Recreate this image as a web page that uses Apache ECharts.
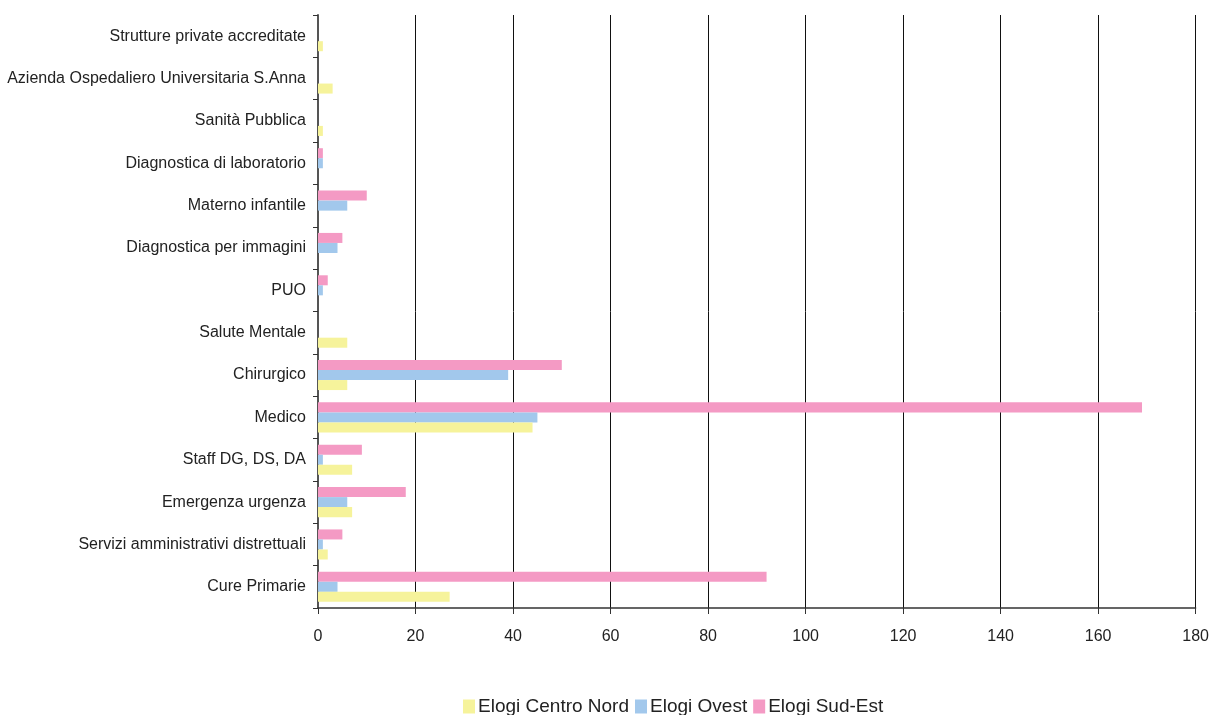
<!DOCTYPE html>
<html>
<head>
<meta charset="utf-8">
<script src="https://cdn.jsdelivr.net/npm/echarts@6/dist/echarts.min.js"></script>
<style>
  html, body { margin: 0; padding: 0; background: #fff; }
  #chart { width: 1212px; height: 715px; }
</style>
</head>
<body>
<div id="chart"></div>
<script>
// categories from bottom to top
const categories = [
  'Cure Primarie',
  'Servizi amministrativi distrettuali',
  'Emergenza urgenza',
  'Staff DG, DS, DA',
  'Medico',
  'Chirurgico',
  'Salute Mentale',
  'PUO',
  'Diagnostica per immagini',
  'Materno infantile',
  'Diagnostica di laboratorio',
  'Sanità Pubblica',
  'Azienda Ospedaliero Universitaria S.Anna',
  'Strutture private accreditate'
]
const centroNord = [27, 2, 7, 7, 44, 6, 6, 0, 0, 0, 0, 1, 3, 1]
const ovest = [4, 1, 6, 1, 45, 39, 0, 1, 4, 6, 1, 0, 0, 0]
const sudEst = [92, 5, 18, 9, 169, 50, 0, 2, 5, 10, 1, 0, 0, 0]

const font = "'Liberation Sans Narrow', 'Arial Narrow', 'Liberation Sans', sans-serif"

const chart = echarts.init(document.getElementById('chart'))

const bar = (name, data, color) => ({
  name: name,
  type: 'bar',
  data: data,
  barGap: '0%',
  barCategoryGap: '29%',
  itemStyle: { color: color },
  animation: false
})

chart.setOption({
  textStyle: { fontFamily: font },
  grid: { left: 318, right: 15, top: 15, bottom: 107 },
  legend: {
    top: 692,
    left: 458,
    itemWidth: 12,
    itemHeight: 14,
    itemGap: 6,
    icon: 'rect',
    textStyle: { fontFamily: font, fontSize: 19, color: '#222', padding: [0, 0, 0, -2] },
    data: ['Elogi Centro Nord', 'Elogi Ovest', 'Elogi Sud-Est']
  },
  xAxis: {
    type: 'value',
    min: 0,
    max: 180,
    interval: 20,
    axisLine: { show: true, lineStyle: { color: '#333', width: 1.5 } },
    axisTick: { show: true, length: 6, lineStyle: { color: '#333' } },
    axisLabel: { fontFamily: font, fontSize: 16, color: '#222', margin: 21 },
    splitLine: { show: true, lineStyle: { color: '#111', width: 1 } }
  },
  yAxis: {
    type: 'category',
    data: categories,
    axisLine: { show: true, lineStyle: { color: '#555', width: 2 } },
    axisTick: { show: true, length: 5, lineStyle: { color: '#333' } },
    axisLabel: { fontFamily: font, fontSize: 16, color: '#222', margin: 12 }
  },
  // series listed top-to-bottom within each category
  series: [
    bar('Elogi Sud-Est', sudEst, '#F49AC4'),
    bar('Elogi Ovest', ovest, '#A2C8EC'),
    bar('Elogi Centro Nord', centroNord, '#F6F39B')
  ]
})
</script>
</body>
</html>
